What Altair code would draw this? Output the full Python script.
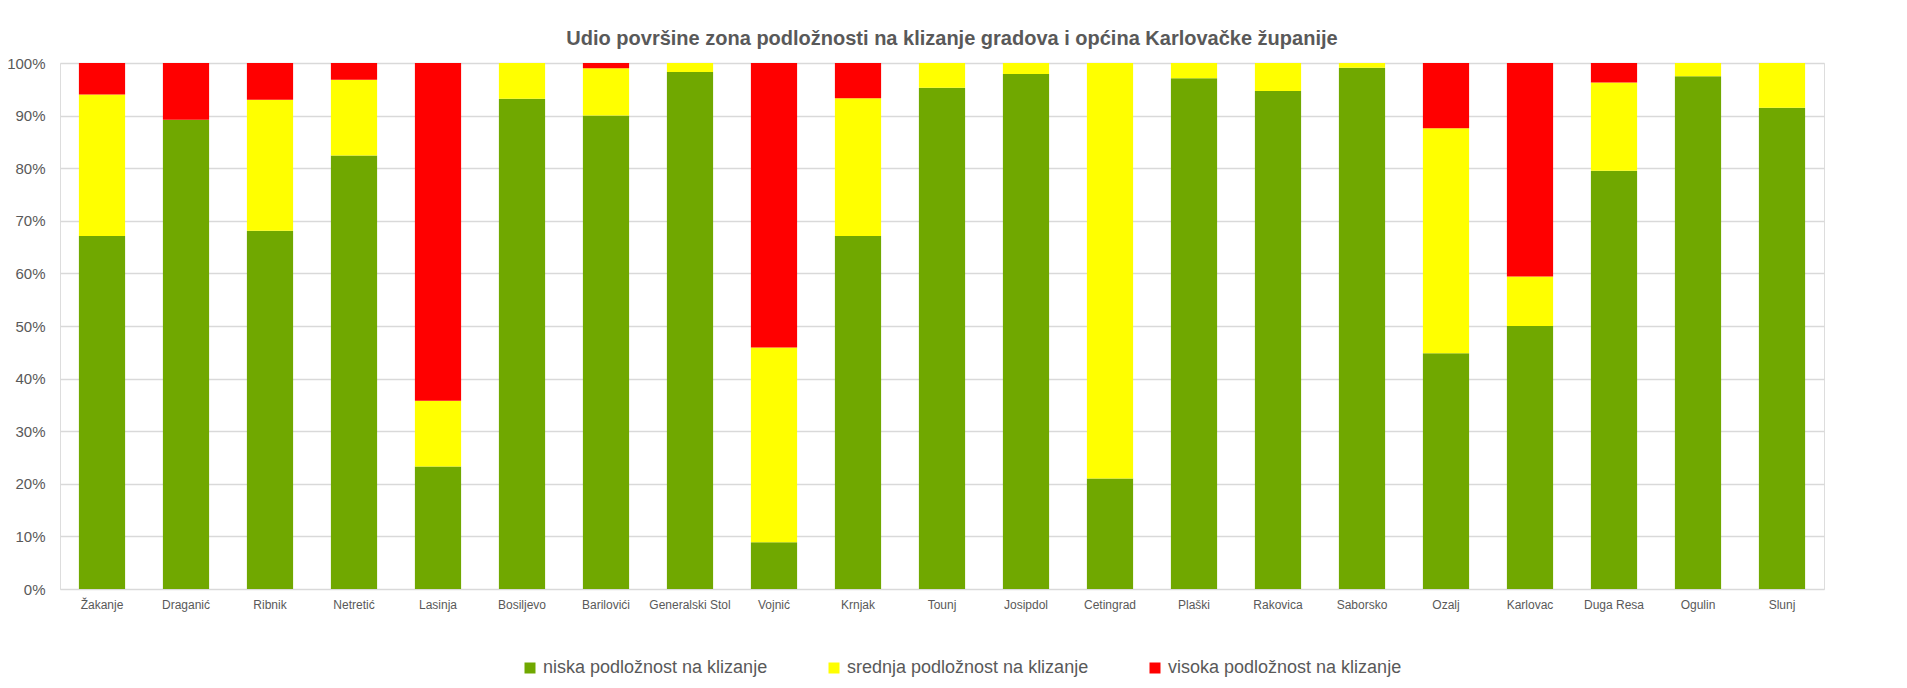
import altair as alt
import pandas as pd

gradovi = ["Žakanje", "Draganić", "Ribnik", "Netretić", "Lasinja", "Bosiljevo", "Barilovići",
           "Generalski Stol", "Vojnić", "Krnjak", "Tounj", "Josipdol", "Cetingrad", "Plaški",
           "Rakovica", "Saborsko", "Ozalj", "Karlovac", "Duga Resa", "Ogulin", "Slunj"]
niska = [67.1, 89.2, 68.1, 82.4, 23.3, 93.2, 90.0, 98.3, 8.9, 67.1, 95.3, 97.9, 21.0, 97.1,
         94.7, 99.1, 44.8, 50.0, 79.5, 97.5, 91.5]
srednja = [26.9, 0.0, 24.9, 14.4, 12.5, 6.8, 9.0, 1.7, 37.0, 26.2, 4.7, 2.1, 79.0, 2.9,
           5.3, 0.9, 42.8, 9.4, 16.8, 2.5, 8.5]
visoka = [6.0, 10.8, 7.0, 3.2, 64.2, 0.0, 1.0, 0.0, 54.1, 6.7, 0.0, 0.0, 0.0, 0.0,
          0.0, 0.0, 12.4, 40.6, 3.7, 0.0, 0.0]

serije = ["niska podložnost na klizanje", "srednja podložnost na klizanje", "visoka podložnost na klizanje"]
boje = ["#70A800", "#FFFF00", "#FF0000"]

rows = []
for i, g in enumerate(gradovi):
    for k, (s, vals) in enumerate(zip(serije, [niska, srednja, visoka])):
        rows.append({"grad": g, "serija": s, "udio": vals[i], "red": k})
df = pd.DataFrame(rows)

FONT = "Liberation Sans"
GRAY = "#595959"

chart = alt.Chart(df).mark_bar().encode(
    x=alt.X("grad:N", sort=gradovi, title=None,
            scale=alt.Scale(paddingInner=0.45, paddingOuter=0.225),
            axis=alt.Axis(labelAngle=0, ticks=False, domain=False, labelPadding=10,
                          labelFontSize=12, labelColor=GRAY, labelFont=FONT)),
    y=alt.Y("udio:Q", stack="zero", title=None,
            scale=alt.Scale(domain=[0, 100], nice=False),
            axis=alt.Axis(values=list(range(0, 101, 10)), labelExpr="datum.value + '%'",
                          ticks=False, domain=False, labelPadding=15, labelFontSize=15,
                          labelColor=GRAY, labelFont=FONT, gridColor="#D9D9D9", gridWidth=1.3)),
    color=alt.Color("serija:N", scale=alt.Scale(domain=serije, range=boje),
                    legend=alt.Legend(title=None, orient="none", direction="horizontal",
                                      legendX=461, legendY=596, symbolType="square",
                                      symbolSize=121, symbolStrokeWidth=0, labelFontSize=18,
                                      labelColor=GRAY, labelFont=FONT, labelOffset=4,
                                      labelLimit=500, columnPadding=57, padding=0)),
    order=alt.Order("red:Q", sort="ascending"),
).properties(
    width=1764, height=526,
    title=alt.TitleParams("Udio površine zona podložnosti na klizanje gradova i općina Karlovačke županije",
                          font=FONT, fontSize=20, fontWeight="bold", color=GRAY,
                          anchor="middle", dx=10, offset=7),
    padding={"left": 52, "top": 55, "right": 75, "bottom": 91},
    autosize=alt.AutoSizeParams(type="none"),
).configure_view(stroke=None).configure(background="white")

chart.save("out.html", embed_options={"renderer": "svg", "actions": False})
